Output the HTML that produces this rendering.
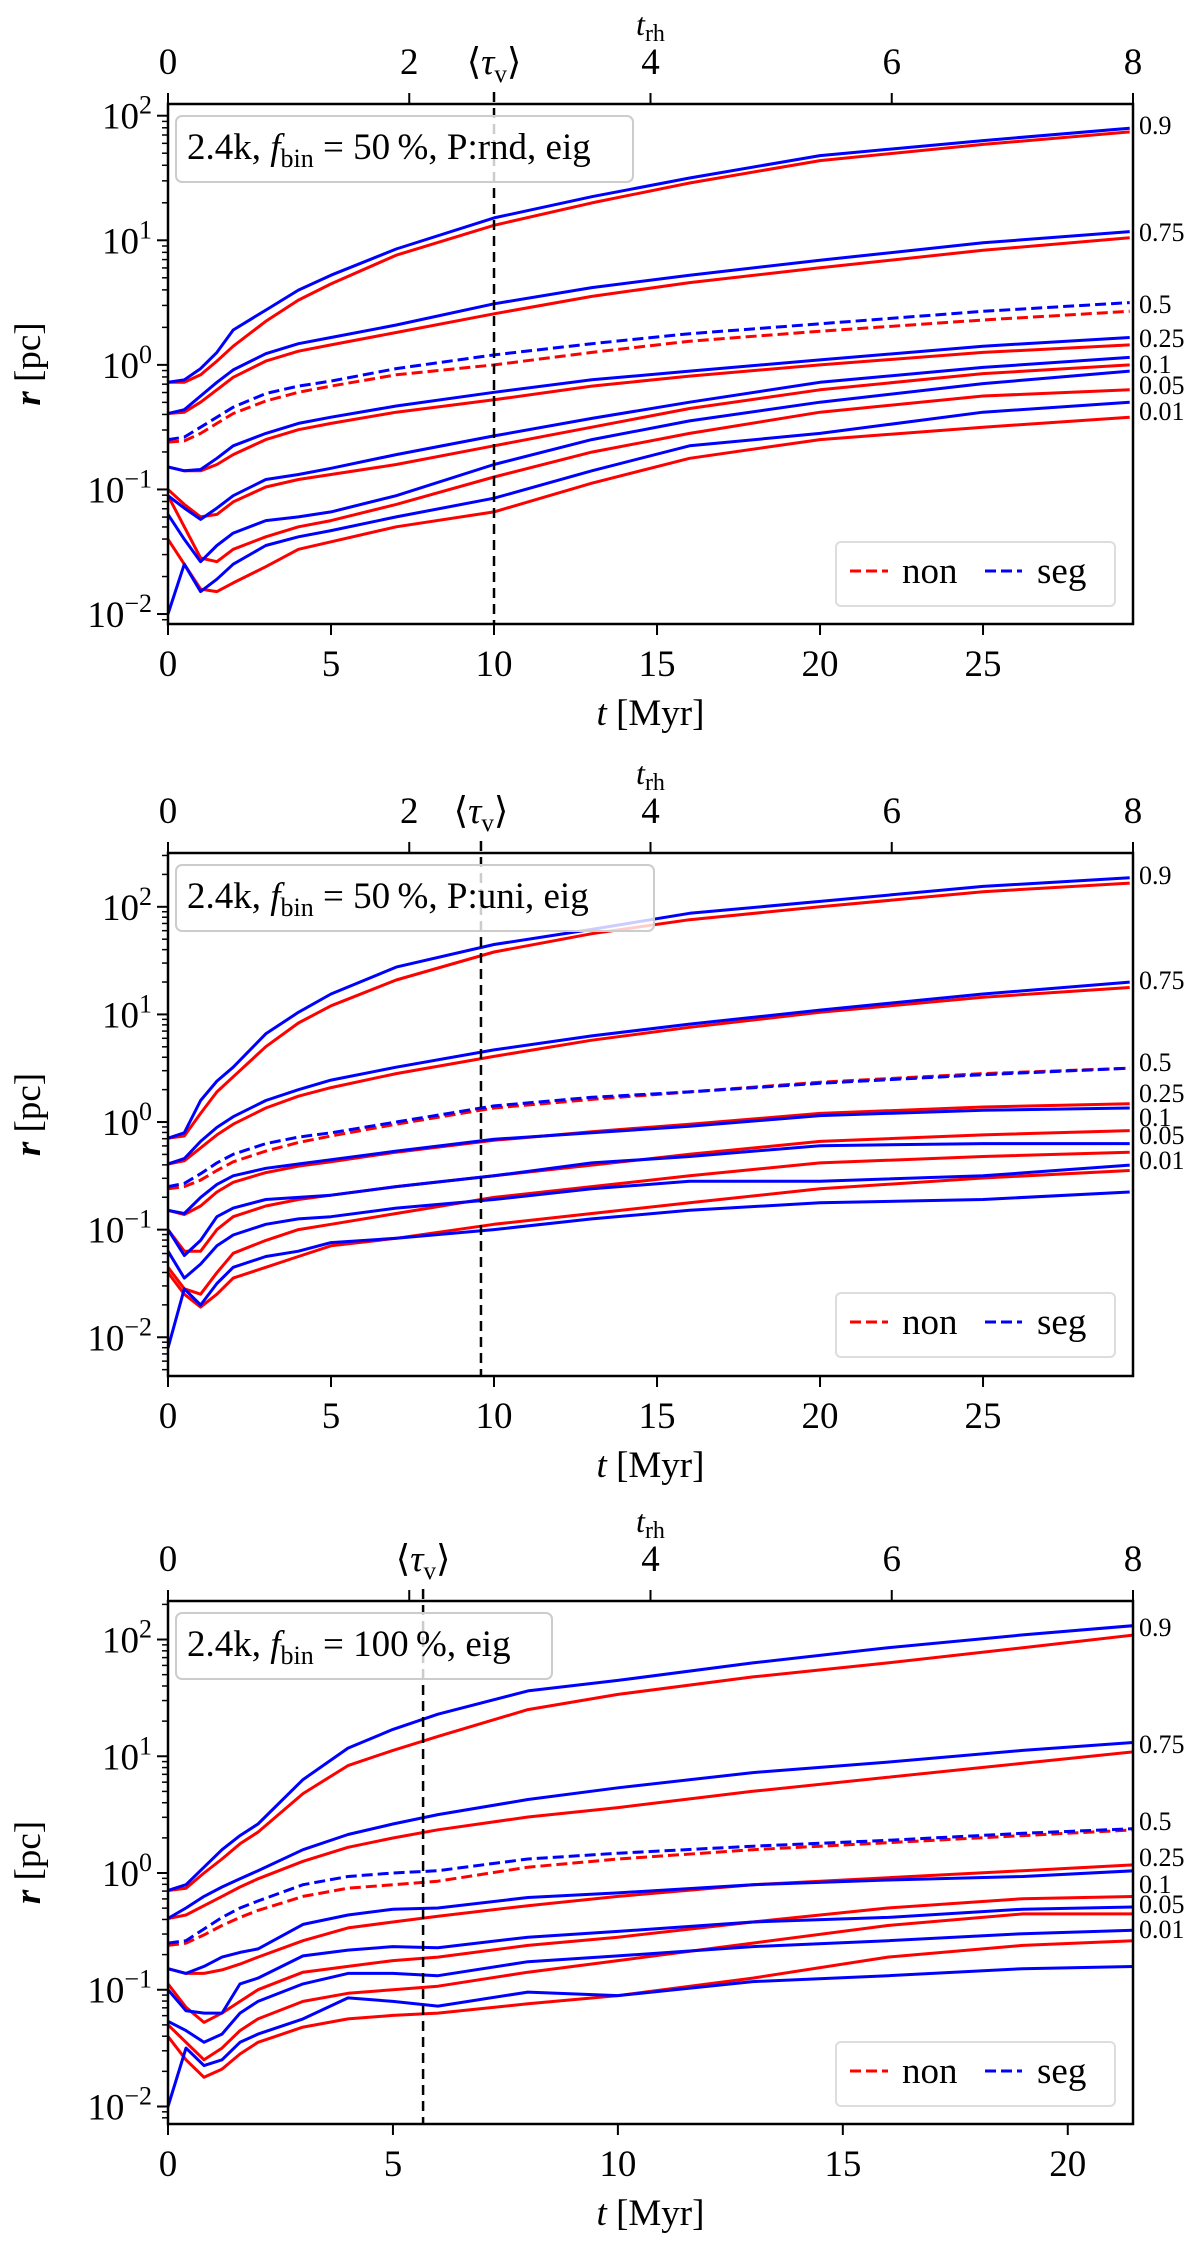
<!DOCTYPE html>
<html><head><meta charset="utf-8"><style>
html,body{margin:0;padding:0;background:#fff}
svg{display:block}
text{font-family:"Liberation Serif","DejaVu Serif",serif;fill:#000}
</style></head><body>
<svg id="fig" width="1200" height="2241" viewBox="0 0 1200 2241" xmlns="http://www.w3.org/2000/svg"></svg>
<script>
// ---------- data (log10 r [pc]) ----------
var fracs = ["0.9","0.75","0.5","0.25","0.1","0.05","0.01"];
// Panel 1: 2.4k, fbin=50%, P:rnd
var t1 = [0,0.5,1,1.5,2,3,4,5,7,10,13,16,20,25,29.5];
var p1_seg = [
[-0.14,-0.12,-0.03,0.1,0.28,0.44,0.6,0.72,0.93,1.18,1.35,1.5,1.68,1.8,1.9],
[-0.39,-0.36,-0.25,-0.14,-0.04,0.09,0.17,0.22,0.32,0.49,0.62,0.72,0.84,0.98,1.07],
[-0.6,-0.58,-0.5,-0.42,-0.34,-0.23,-0.17,-0.13,-0.03,0.08,0.17,0.25,0.33,0.43,0.5],
[-0.82,-0.85,-0.84,-0.75,-0.65,-0.55,-0.47,-0.42,-0.33,-0.22,-0.12,-0.05,0.04,0.15,0.22],
[-1.05,-1.15,-1.24,-1.15,-1.05,-0.92,-0.88,-0.83,-0.72,-0.57,-0.43,-0.3,-0.14,-0.02,0.06],
[-1.2,-1.4,-1.58,-1.45,-1.35,-1.25,-1.22,-1.18,-1.05,-0.8,-0.6,-0.45,-0.3,-0.15,-0.05],
[-2.0,-1.6,-1.82,-1.72,-1.6,-1.45,-1.38,-1.33,-1.22,-1.07,-0.85,-0.65,-0.55,-0.38,-0.3]];
var p1_non = [
[-0.14,-0.14,-0.08,0.03,0.15,0.35,0.52,0.65,0.88,1.12,1.3,1.46,1.64,1.77,1.87],
[-0.39,-0.38,-0.3,-0.2,-0.1,0.03,0.11,0.16,0.26,0.41,0.55,0.66,0.78,0.92,1.02],
[-0.62,-0.61,-0.55,-0.47,-0.39,-0.29,-0.22,-0.17,-0.08,0.0,0.1,0.19,0.27,0.36,0.43],
[-0.82,-0.85,-0.85,-0.8,-0.72,-0.6,-0.52,-0.47,-0.38,-0.28,-0.17,-0.09,0.0,0.1,0.16],
[-1.0,-1.12,-1.22,-1.2,-1.1,-0.98,-0.92,-0.88,-0.8,-0.65,-0.5,-0.35,-0.2,-0.07,0.0],
[-1.05,-1.3,-1.55,-1.58,-1.48,-1.38,-1.3,-1.25,-1.12,-0.9,-0.7,-0.55,-0.38,-0.25,-0.2],
[-1.4,-1.6,-1.8,-1.82,-1.75,-1.62,-1.48,-1.42,-1.3,-1.18,-0.95,-0.75,-0.6,-0.5,-0.42]];
// Panel 2: 2.4k, fbin=50%, P:uni
var t2 = [0,0.5,1,1.5,2,3,4,5,7,10,13,16,20,25,29.5];
var p2_seg = [
[-0.15,-0.1,0.2,0.38,0.51,0.82,1.02,1.19,1.44,1.65,1.79,1.94,2.05,2.19,2.27],
[-0.39,-0.34,-0.18,-0.05,0.05,0.2,0.3,0.39,0.51,0.67,0.8,0.91,1.04,1.19,1.3],
[-0.6,-0.57,-0.48,-0.38,-0.3,-0.2,-0.14,-0.1,0.0,0.15,0.23,0.28,0.36,0.44,0.5],
[-0.82,-0.85,-0.7,-0.58,-0.5,-0.43,-0.39,-0.35,-0.27,-0.16,-0.1,-0.04,0.06,0.11,0.13],
[-1.0,-1.24,-1.1,-0.88,-0.8,-0.72,-0.7,-0.68,-0.6,-0.5,-0.38,-0.32,-0.22,-0.2,-0.2],
[-1.2,-1.45,-1.32,-1.15,-1.05,-0.95,-0.9,-0.88,-0.8,-0.72,-0.62,-0.55,-0.55,-0.5,-0.4],
[-2.1,-1.55,-1.7,-1.5,-1.35,-1.25,-1.2,-1.12,-1.08,-1.0,-0.9,-0.82,-0.75,-0.72,-0.65]];
var p2_non = [
[-0.15,-0.13,0.08,0.28,0.42,0.7,0.92,1.08,1.32,1.58,1.75,1.88,2.0,2.14,2.22],
[-0.39,-0.36,-0.24,-0.12,-0.02,0.13,0.24,0.32,0.45,0.61,0.76,0.88,1.02,1.16,1.25],
[-0.62,-0.6,-0.54,-0.45,-0.37,-0.27,-0.19,-0.13,-0.02,0.13,0.21,0.28,0.37,0.45,0.5],
[-0.82,-0.86,-0.78,-0.65,-0.56,-0.47,-0.41,-0.37,-0.28,-0.17,-0.09,-0.02,0.08,0.14,0.17],
[-1.0,-1.2,-1.2,-1.0,-0.88,-0.78,-0.72,-0.68,-0.6,-0.5,-0.4,-0.3,-0.18,-0.12,-0.08],
[-1.35,-1.55,-1.6,-1.4,-1.22,-1.1,-1.0,-0.95,-0.85,-0.7,-0.6,-0.5,-0.38,-0.32,-0.28],
[-1.4,-1.6,-1.72,-1.6,-1.45,-1.35,-1.25,-1.15,-1.08,-0.95,-0.85,-0.75,-0.62,-0.52,-0.45]];
// Panel 3: 2.4k, fbin=100%
var t3 = [0,0.4,0.8,1.2,1.6,2,3,4,5,6,8,10,13,16,19,21.5];
var p3_seg = [
[-0.15,-0.1,0.05,0.2,0.32,0.42,0.8,1.07,1.23,1.36,1.56,1.65,1.8,1.93,2.04,2.12],
[-0.39,-0.3,-0.2,-0.12,-0.05,0.02,0.2,0.33,0.42,0.5,0.63,0.73,0.86,0.95,1.05,1.12],
[-0.6,-0.58,-0.48,-0.38,-0.3,-0.24,-0.1,-0.03,0.0,0.02,0.12,0.17,0.23,0.28,0.34,0.38],
[-0.82,-0.86,-0.8,-0.72,-0.68,-0.65,-0.44,-0.36,-0.31,-0.3,-0.21,-0.17,-0.1,-0.06,-0.03,0.02],
[-1.0,-1.18,-1.2,-1.2,-0.95,-0.9,-0.71,-0.66,-0.63,-0.64,-0.55,-0.5,-0.42,-0.38,-0.31,-0.29],
[-1.27,-1.35,-1.45,-1.38,-1.2,-1.1,-0.95,-0.86,-0.86,-0.88,-0.76,-0.71,-0.63,-0.58,-0.52,-0.49],
[-2.0,-1.5,-1.65,-1.6,-1.45,-1.38,-1.25,-1.07,-1.1,-1.14,-1.02,-1.05,-0.93,-0.88,-0.82,-0.8]];
var p3_non = [
[-0.15,-0.13,0.0,0.12,0.25,0.35,0.68,0.92,1.05,1.17,1.4,1.53,1.68,1.8,1.93,2.04],
[-0.39,-0.36,-0.28,-0.2,-0.12,-0.05,0.1,0.22,0.3,0.37,0.48,0.56,0.7,0.82,0.94,1.04],
[-0.62,-0.6,-0.53,-0.45,-0.38,-0.32,-0.2,-0.13,-0.1,-0.07,0.05,0.12,0.2,0.26,0.32,0.37],
[-0.82,-0.86,-0.86,-0.83,-0.78,-0.72,-0.58,-0.47,-0.42,-0.37,-0.28,-0.2,-0.1,-0.04,0.02,0.07],
[-0.95,-1.15,-1.28,-1.2,-1.1,-1.0,-0.85,-0.8,-0.75,-0.72,-0.62,-0.55,-0.42,-0.3,-0.22,-0.2],
[-1.3,-1.45,-1.6,-1.5,-1.35,-1.25,-1.1,-1.03,-1.0,-0.97,-0.85,-0.75,-0.6,-0.45,-0.35,-0.35],
[-1.4,-1.6,-1.75,-1.68,-1.55,-1.45,-1.32,-1.25,-1.22,-1.2,-1.12,-1.05,-0.9,-0.72,-0.62,-0.58]];
var tauv = [10, 9.6, 5.67];
var tmax = [29.6, 29.6, 21.45];
var xticks1 = [0,5,10,15,20,25];
var xticks3 = [0,5,10,15,20];
var trhTicks = [0,2,4,6,8];
var yDecades = [-2,-1,0,1,2];
var boxLabels = ["P:rnd, eig","P:uni, eig","eig"];
var fbinLabels = ["50\u2009%","50\u2009%","100\u2009%"];

// ---------- layout ----------
var panels = [
 {top:104, bot:624, ytop:2.094, ybot:-2.08, t:t1, seg:p1_seg, non:p1_non, xt:xticks1, lab:[125,232,304,338,364,385,411], boxW:457, legY:542},
 {top:853, bot:1376, ytop:2.50, ybot:-2.36, t:t2, seg:p2_seg, non:p2_non, xt:xticks1, lab:[875,980,1062,1093,1117,1135,1160], boxW:478, legY:1293},
 {top:1601, bot:2124, ytop:2.33, ybot:-2.15, t:t3, seg:p3_seg, non:p3_non, xt:xticks3, lab:[1627,1744,1821,1857,1884,1904,1929], boxW:376, legY:2042}
];
var X0 = 168, X1 = 1133;
var NS = "http://www.w3.org/2000/svg";
var svg = document.getElementById('fig');
function el(tag, attrs, parent){
  var e = document.createElementNS(NS, tag);
  for (var k in attrs) e.setAttribute(k, attrs[k]);
  (parent||svg).appendChild(e); return e;
}

panels.forEach(function(P, pi){
  var g = el('g', {});
  
  
  function xs(t){ return X0 + (t/tmax[pi])*(X1-X0); }
  function ys(l){ return P.top + (P.ytop - l)/(P.ytop - P.ybot)*(P.bot-P.top); }
  var clipId = 'clip'+pi;
  var cp = el('clipPath', {id:clipId}, g);
  el('rect', {x:X0, y:P.top, width:X1-X0, height:P.bot-P.top}, cp);

  // series
  var lines = el('g', {'clip-path':'url(#'+clipId+')'}, g);
  
  
  [['non','#ff0000',P.non],['seg','#0000ff',P.seg]].forEach(function(s){
    s[2].forEach(function(arr, i){
      var pts = arr.map(function(v, j){ return xs(P.t[j]).toFixed(1)+','+ys(v).toFixed(1); }).join(' ');
      var pl = el('polyline', {points:pts, fill:'none', stroke:s[1], 'stroke-width':3, 'stroke-linejoin':'round'}, lines);
      if (fracs[i] === '0.5') pl.setAttribute('stroke-dasharray', '11,5');
      
      
    });
  });

  // tau_v dashed line
  var tv = el('line', {x1:xs(tauv[pi]), x2:xs(tauv[pi]), y1:P.top-12, y2:P.bot, stroke:'#000', 'stroke-width':2.5, 'stroke-dasharray':'10,6'}, g);
  
  

  // frame
  var fr = el('rect', {x:X0, y:P.top, width:X1-X0, height:P.bot-P.top, fill:'none', stroke:'#000', 'stroke-width':2.5}, g);
  
  

  // bottom ticks
  P.xt.forEach(function(v){
    var x = xs(v);
    el('line', {x1:x, x2:x, y1:P.bot, y2:P.bot+11, stroke:'#000', 'stroke-width':2}, g);
    var tx = el('text', {x:x, y:P.bot+52, 'font-size':37, 'text-anchor':'middle'}, g);
    tx.textContent = v;
    
    
  });
  var xt = el('text', {x:(X0+X1)/2, y:P.bot+101, 'font-size':37, 'text-anchor':'middle'}, g);
  xt.innerHTML = '<tspan font-style="italic">t</tspan> [Myr]';
  
  

  // top ticks (t_rh)
  trhTicks.forEach(function(v){
    var x = X0 + v/8*(X1-X0);
    el('line', {x1:x, x2:x, y1:P.top, y2:P.top-11, stroke:'#000', 'stroke-width':2}, g);
    if (pi===2 && v===2) return;
    var tx = el('text', {x:x, y:P.top-30, 'font-size':37, 'text-anchor':'middle'}, g);
    tx.textContent = v;
    
    
  });
  var tvl = el('text', {x:xs(tauv[pi]), y:P.top-30, 'font-size':37, 'text-anchor':'middle'}, g);
  tvl.innerHTML = '\u27E8<tspan font-style="italic">\u03C4</tspan><tspan font-size="25" dy="8">v</tspan><tspan dy="-8">\u27E9</tspan>';
  
  
  var tr = el('text', {x:X0 + 4/8*(X1-X0), y:P.top-69, 'font-size':32, 'text-anchor':'middle'}, g);
  tr.innerHTML = '<tspan font-style="italic">t</tspan><tspan font-size="24" dy="6">rh</tspan>';
  
  

  // y ticks
  for (var d=-3; d<=2; d++){
    for (var m=1; m<=9; m++){
      var l = d + Math.log10(m);
      if (l > P.ytop || l < P.ybot) continue;
      var y = ys(l);
      el('line', {x1:X0, x2:X0-(m===1?11:6), y1:y, y2:y, stroke:'#000', 'stroke-width':m===1?2:1.5}, g);
    }
  }
  yDecades.forEach(function(d){
    var ty = el('text', {x:X0-16, y:ys(d)+13, 'font-size':37, 'text-anchor':'end'}, g);
    ty.innerHTML = '10<tspan font-size="26" dy="-15">' + (d<0 ? '\u2212'+(-d) : d) + '</tspan>';
    
    
  });
  var yc = (P.top+P.bot)/2;
  var yt = el('text', {x:0, y:0, 'font-size':37, 'text-anchor':'middle', transform:'translate(40,'+yc+') rotate(-90)'}, g);
  yt.innerHTML = '<tspan font-style="italic" font-weight="bold">r</tspan> [pc]';
  
  

  // right fraction labels
  fracs.forEach(function(f, i){
    var tl = el('text', {x:1139, y:P.lab[i]+9, 'font-size':26}, g);
    tl.textContent = f;
    
    
  });

  // info box
  var bx = el('rect', {x:176, y:P.top+12, width:P.boxW, height:66, rx:6, fill:'#fff', 'fill-opacity':0.8, stroke:'#cccccc', 'stroke-width':2}, g);
  
  
  var bt = el('text', {x:187, y:P.top+55, 'font-size':37}, g);
  bt.innerHTML = '2.4k, <tspan font-style="italic">f</tspan><tspan font-size="26" dy="8">bin</tspan><tspan dy="-8"> = ' + fbinLabels[pi] + ', ' + boxLabels[pi] + '</tspan>';
  
  

  // legend
  var lg = el('g', {}, g);
  
  
  el('rect', {x:836, y:P.legY, width:279, height:64, rx:5, fill:'#fff', 'fill-opacity':0.8, stroke:'#dddddd', 'stroke-width':2}, lg);
  var ly = P.legY + 29;
  var l1 = el('line', {x1:850, x2:888, y1:ly, y2:ly, stroke:'#ff0000', 'stroke-width':3, 'stroke-dasharray':'11,5'}, lg);
  
  
  var t1e = el('text', {x:902, y:ly+12, 'font-size':37}, lg); t1e.textContent = 'non';
  var l2 = el('line', {x1:985, x2:1022, y1:ly, y2:ly, stroke:'#0000ff', 'stroke-width':3, 'stroke-dasharray':'11,5'}, lg);
  
  
  var t2e = el('text', {x:1037, y:ly+12, 'font-size':37}, lg); t2e.textContent = 'seg';
});
</script>
</body></html>
